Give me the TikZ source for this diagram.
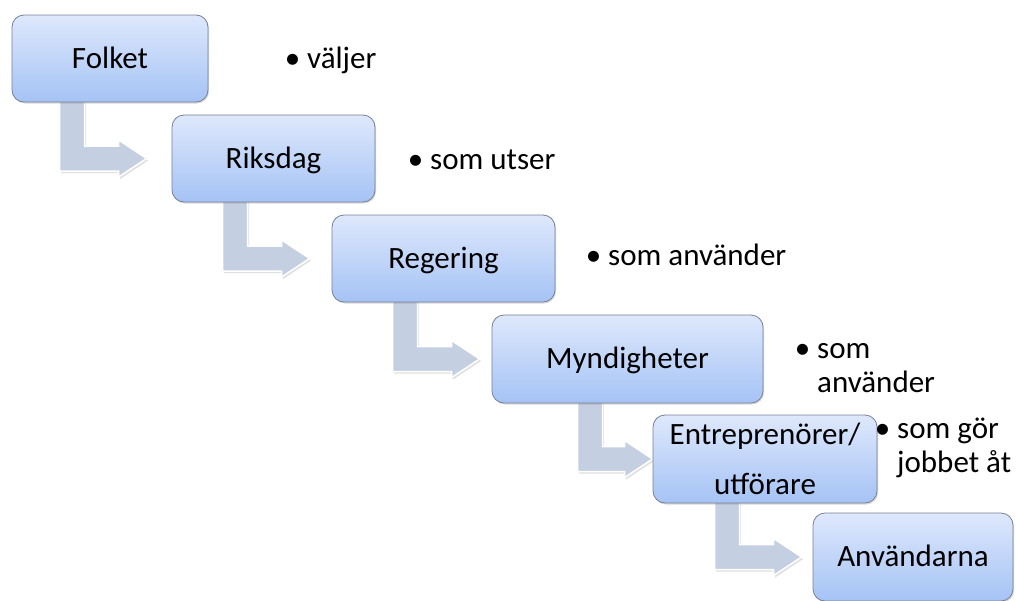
\documentclass[tikz,border=0pt]{standalone}
\usepackage{fontspec}
\setmainfont{Carlito}
\usetikzlibrary{calc,shadows,backgrounds}

\definecolor{boxtop}{RGB}{222,232,252}
\definecolor{boxbot}{RGB}{165,195,245}
\definecolor{boxline}{RGB}{118,128,148}
\definecolor{arrowfill}{RGB}{197,207,226}

\tikzset{
  stepbox/.style={rounded corners=12pt, draw=boxline, line width=0.8pt,
    top color=boxtop, bottom color=boxbot, minimum height=87pt, inner sep=0pt,
    font=\fontsize{31}{37}\selectfont,
    drop shadow={opacity=0.3, shadow xshift=1pt, shadow yshift=-1.5pt}},
  oneline/.style={text height=23pt, text depth=4pt},
  bentfill/.style={fill=arrowfill, draw=white, line width=1.5pt, line join=miter,
    drop shadow={opacity=0.25, shadow xshift=1.5pt, shadow yshift=-2pt}},
  note/.style={anchor=base west, inner sep=0pt, font=\fontsize{31}{34.5}\selectfont}
}

% Bent arrow leaving the bottom of #1 and pointing at the left side of #2.
% #3: shaft offset from the left edge of #1, #4: gap before #2.
\newcommand\bentarrow[4]{%
  \path[bentfill] let \p1=(#1.south west), \p2=(#2.west) in
    ({\x1+#3pt},{\y1+8pt}) -- ({\x1+#3pt+25pt},{\y1+8pt})
    -- ({\x1+#3pt+25pt},{\y2+12.5pt}) -- ({\x2-#4pt-28pt},{\y2+12.5pt})
    -- ({\x2-#4pt-28pt},{\y2+18.5pt}) -- ({\x2-#4pt},{\y2})
    -- ({\x2-#4pt-28pt},{\y2-18.5pt}) -- ({\x2-#4pt-28pt},{\y2-12.5pt})
    -- ({\x1+#3pt},{\y2-12.5pt}) -- cycle;
}
\newcommand\bul{\llap{\textbullet\hspace{7pt}}}

\begin{document}
\begin{tikzpicture}[x=1pt,y=-1pt]
\useasboundingbox (0,0) rectangle (1016,600);

\node[stepbox, oneline, minimum width=196pt] (folket) at (110,58.5) {Folket};
\node[stepbox, oneline, minimum width=203pt] (riksdag) at (273.5,158.5) {Riksdag};
\node[stepbox, oneline, minimum width=223pt] (regering) at (443.5,258.5) {Regering};
\node[stepbox, oneline, minimum width=271pt, minimum height=88pt] (myndigheter) at (627.5,359) {Myndigheter};
\node[stepbox, minimum width=224pt, minimum height=88pt, align=center,
      font=\fontsize{31}{50}\selectfont] (entre) at (765,459) {Entreprenörer/\\utförare};
\node[stepbox, oneline, minimum width=200pt, minimum height=88pt] (anv) at (913,557) {Användarna};

\begin{pgfonlayer}{background}
  \bentarrow{folket}{riksdag}{48}{25}
  \bentarrow{riksdag}{regering}{51}{22}
  \bentarrow{regering}{myndigheter}{61}{12}
  \bentarrow{myndigheter}{entre}{86}{0}
  \bentarrow{entre}{anv}{62}{11}
\end{pgfonlayer}

\node[note] (n1) at (307,68) {\bul väljer};
\node[note] (n2) at (430,169) {\bul som utser};
\node[note] (n3) at (608,265) {\bul som använder};
\node[note] (n4) at (817,358) {\bul\begin{tabular}[t]{@{}l@{}}som\\använder\end{tabular}};
\node[note] (n5) at (897,438) {\bul\begin{tabular}[t]{@{}l@{}}som gör\\jobbet åt\end{tabular}};
\end{tikzpicture}
\end{document}
